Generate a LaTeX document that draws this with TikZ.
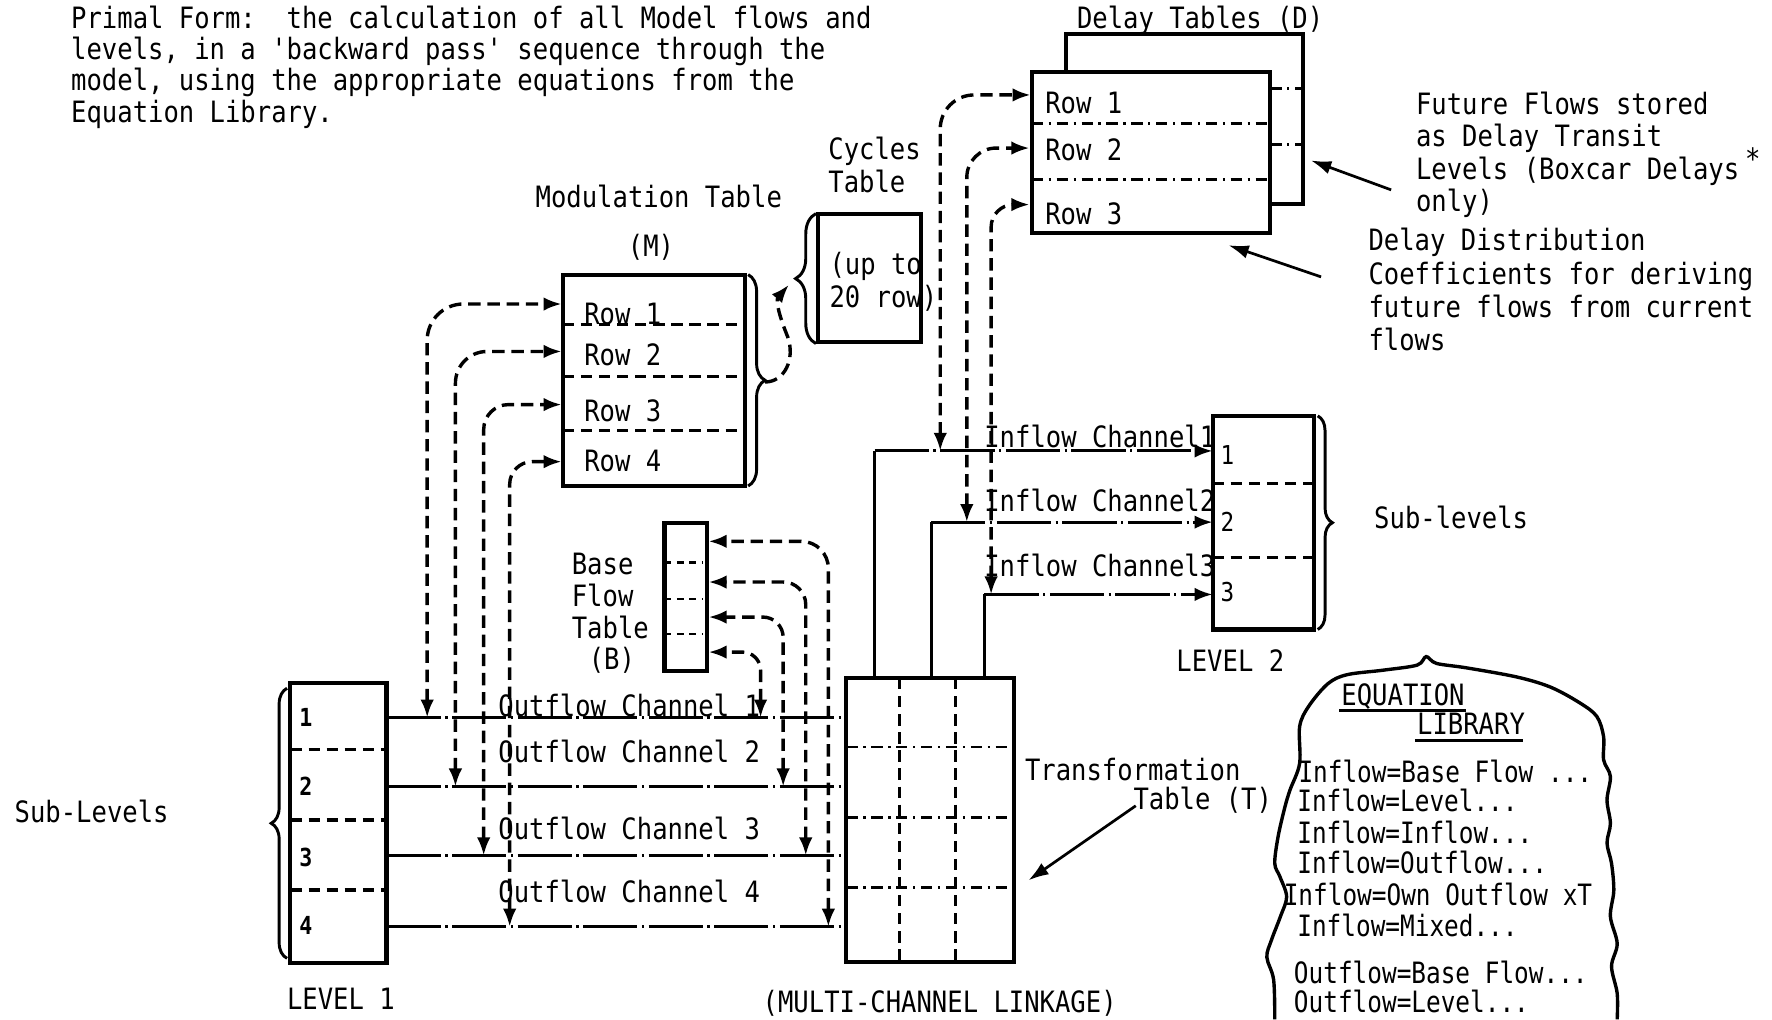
\documentclass[tikz,border=0pt]{standalone}
\usepackage{fontspec}
\newfontfamily\tw[FakeStretch=0.87]{DejaVu Sans Mono}
\newfontfamily\twn[FakeStretch=0.83]{DejaVu Sans Mono}
\usetikzlibrary{arrows.meta,decorations.pathreplacing}
\tikzset{
  txt/.style={inner sep=0pt, outer sep=0pt, anchor=base west, font=\tw\fontsize{13}{14}\selectfont},
  libt/.style={txt, font=\twn\fontsize{13}{14}\selectfont},
  numt/.style={txt, font=\tw\bfseries\fontsize{11}{12}\selectfont},
  numl/.style={txt, font=\tw\fontsize{11.5}{12}\selectfont},
  boxst/.style={draw, line width=1.8pt, fill=white, inner sep=0pt, outer sep=0pt, anchor=north west},
  divd/.style={line width=1.4pt, dash pattern=on 5pt off 3pt},
  divdd/.style={line width=1.3pt, dash pattern=on 5pt off 2.5pt on 1pt off 2.5pt},
  stub/.style={line width=1.2pt, dash pattern=on 3pt off 2.5pt},
  chan/.style={line width=1.3pt, dash pattern=on 24pt off 2pt on 1pt off 2pt},
  solidln/.style={line width=1.3pt},
  darr/.style={line width=1.5pt, dash pattern=on 5.5pt off 3pt, <->},
  darr1/.style={line width=1.5pt, dash pattern=on 5.5pt off 3pt, ->},
  annarr/.style={line width=1.2pt, -{Latex[length=9pt,width=6pt]}},
  brc/.style={decorate, decoration={brace, amplitude=#1, aspect=0.5}, line width=1.3pt},
  >={Latex[length=8pt,width=6pt]},
}
\begin{document}
\begin{tikzpicture}[x=0.5pt,y=-0.5pt]
\useasboundingbox (0,0) rectangle (1568,902);

% ---------- title ----------
\node[txt] (t1) at (63,25) {Primal Form:\ \ the calculation of all Model flows and};
\node[txt] (t2) at (63,53) {levels, in a 'backward pass' sequence through the};
\node[txt] (t3) at (63,80) {model, using the appropriate equations from the};
\node[txt] (t4) at (63,108) {Equation Library.};

% ---------- boxes ----------
\node[boxst, minimum width=80.5pt, minimum height=93.5pt] (M) at (498,243) {};
\node[boxst, minimum width=45.5pt, minimum height=57pt] (C) at (724,189) {};
\node[boxst, minimum width=105pt, minimum height=75.25pt] (D2) at (943,30) {};
\node[boxst, minimum width=105.5pt, minimum height=71pt] (D) at (913,64) {};
\node[boxst, minimum width=19pt, minimum height=65.5pt] (B) at (588,463) {};
\node[boxst, minimum width=42.5pt, minimum height=124pt] (L1) at (257,604) {};
\node[boxst, minimum width=45pt, minimum height=94.5pt] (L2) at (1073,368) {};
\node[boxst, minimum width=74pt, minimum height=125.5pt] (T) at (749,600) {};

% dividers
\draw[divd] (498,287) -- (659,287);
\draw[divd] (498,333) -- (659,333);
\draw[divd] (498,381) -- (659,381);
\draw[divdd] (913,109) -- (1124,109);
\draw[divdd] (913,158.5) -- (1124,158.5);
\draw[divdd] (1124,78) -- (1153,78);
\draw[divdd] (1124,127.6) -- (1153,127.6);
\draw[divd] (257,663) -- (342,663);
\draw[divd] (257,725.6) -- (342,725.6);
\draw[divd] (257,787.5) -- (342,787.5);
\draw[divd] (1073,428) -- (1163,428);
\draw[divd] (1073,493.5) -- (1163,493.5);
\draw[divd] (796,600) -- (796,851);
\draw[divd] (845.5,600) -- (845.5,851);
\draw[divdd] (749,661) -- (897,661);
\draw[divdd] (749,723) -- (897,723);
\draw[divdd] (749,785) -- (897,785);
\draw[stub] (588,498) -- (622,498);
\draw[stub] (588,530) -- (622,530);
\draw[stub] (588,561) -- (622,561);

% ---------- box texts ----------
\node[txt] (modlab) at (474,184) {Modulation Table};
\node[txt, anchor=base] (modm) at (576,227) {(M)};
\node[txt] (mr1) at (517,287) {Row 1};
\node[txt] (mr2) at (517,323) {Row 2};
\node[txt] (mr3) at (517,373) {Row 3};
\node[txt] (mr4) at (517,417) {Row 4};

\node[txt] (cyc1) at (733,141) {Cycles};
\node[txt] (cyc2) at (733,170) {Table};
\node[txt] (cyc3) at (734,243) {(up to};
\node[txt] (cyc4) at (734,272) {20 row)};

\node[txt] (dlab) at (953,25) {Delay Tables (D)};
\node[txt] (dr1) at (925,100) {Row 1};
\node[txt] (dr2) at (925,142) {Row 2};
\node[txt] (dr3) at (925,199) {Row 3};

\node[txt] (ff1) at (1253,101) {Future Flows stored};
\node[txt] (ff2) at (1253,130) {as Delay Transit};
\node[txt] (ff3) at (1253,159) {Levels (Boxcar Delays};
\node[txt] (ff4) at (1253,187) {only)};
\node[txt, anchor=center] (ast) at (1551,140) {*};

\node[txt] (dd1) at (1211,222) {Delay Distribution};
\node[txt] (dd2) at (1211,252) {Coefficients for deriving};
\node[txt] (dd3) at (1211,281) {future flows from current};
\node[txt] (dd4) at (1211,310) {flows};

\node[txt] (bl1) at (506,508) {Base};
\node[txt] (bl2) at (506,537) {Flow};
\node[txt] (bl3) at (506,565) {Table};
\node[txt] (bl4) at (521,592) {(B)};

\node[numt] (n1) at (265,643) {1};
\node[numt] (n2) at (265,703.5) {2};
\node[numt] (n3) at (265,767) {3};
\node[numt] (n4) at (265,827) {4};
\node[numl] (m1) at (1080,411) {1};
\node[numl] (m2) at (1080,470) {2};
\node[numl] (m3) at (1080,532) {3};

\node[txt] (sl2) at (1216,468) {Sub-levels};
\node[txt] (lv2) at (1041,594) {LEVEL 2};
\node[txt] (sl1) at (13,728) {Sub-Levels};
\node[txt] (lv1) at (254,893) {LEVEL 1};

\node[txt] (tr1) at (907,691) {Transformation};
\node[txt] (tr2) at (1003,716) {Table (T)};
\node[txt, anchor=base] (mcl) at (831.5,896) {(MULTI-CHANNEL LINKAGE)};

\node[txt] (oc1) at (441,634) {Outflow Channel 1};
\node[txt] (oc2) at (441,675) {Outflow Channel 2};
\node[txt] (oc3) at (441,743) {Outflow Channel 3};
\node[txt] (oc4) at (441,799) {Outflow Channel 4};

\node[txt] (ic1) at (871,396) {Inflow Channel1};
\node[txt] (ic2) at (871,453) {Inflow Channel2};
\node[txt] (ic3) at (871,510) {Inflow Channel3};

% ---------- braces ----------
\draw[brc=7.5pt] (662,243) -- (662,430);
\draw[brc=9pt] (722,304) -- (722,189);
\draw[brc=6.5pt] (1166,368) -- (1166,557);
\draw[brc=7pt] (254,848) -- (254,609);

% ---------- named connector ends ----------
\coordinate (L1o1) at (342,635);  \coordinate (To1) at (749,635);
\coordinate (L1o2) at (342,696);  \coordinate (To2) at (749,696);
\coordinate (L1o3) at (342,757);  \coordinate (To3) at (749,757);
\coordinate (L1o4) at (342,820);  \coordinate (To4) at (749,820);

\coordinate (Ti1) at (774,600);  \coordinate (k1) at (774,399);  \coordinate (L2i1) at (1073,399);
\coordinate (Ti2) at (824,600);  \coordinate (k2) at (824,462);  \coordinate (L2i2) at (1073,462);
\coordinate (Ti3) at (871,600);  \coordinate (k3) at (871,526);  \coordinate (L2i3) at (1073,526);

\coordinate (Mr1) at (497,269); \coordinate (Mr2) at (497,311);
\coordinate (Mr3) at (497,358); \coordinate (Mr4) at (497,408.5);
\coordinate (om1) at (378,635); \coordinate (om2) at (403,696);
\coordinate (om3) at (428,757); \coordinate (om4) at (451,820);

\coordinate (Br1) at (627,479); \coordinate (Br2) at (627,515);
\coordinate (Br3) at (627,546); \coordinate (Br4) at (627,577);
\coordinate (ob1) at (733,820); \coordinate (ob2) at (713,757);
\coordinate (ob3) at (693,696); \coordinate (ob4) at (673,635);

\coordinate (Dr1) at (912,84);  \coordinate (Dr2) at (911,131); \coordinate (Dr3) at (911,181);
\coordinate (id1) at (832,399); \coordinate (id2) at (855.5,462); \coordinate (id3) at (877,526);

\coordinate (mbt) at (677,338); \coordinate (cbt) at (698,252);

% ---------- outflow channels ----------
\draw[chan] (L1o1) -- (To1);
\draw[chan] (L1o2) -- (To2);
\draw[chan] (L1o3) -- (To3);
\draw[chan] (L1o4) -- (To4);

% ---------- inflow channels ----------
\draw[solidln] (Ti1) -- (k1);
\draw[solidln] (Ti2) -- (k2);
\draw[solidln] (Ti3) -- (k3);
\draw[chan, ->] (k1) -- (L2i1);
\draw[chan, ->] (k2) -- (L2i2);
\draw[chan, ->] (k3) -- (L2i3);

% ---------- dashed links ----------
\draw[darr, rounded corners=16pt] (om1) |- (Mr1);
\draw[darr, rounded corners=14pt] (om2) |- (Mr2);
\draw[darr, rounded corners=11pt] (om3) |- (Mr3);
\draw[darr, rounded corners=10pt] (om4) |- (Mr4);

\draw[darr, rounded corners=12pt] (ob1) |- (Br1);
\draw[darr, rounded corners=10pt] (ob2) |- (Br2);
\draw[darr, rounded corners=9pt] (ob3) |- (Br3);
\draw[darr, rounded corners=8pt] (ob4) |- (Br4);

\draw[darr, rounded corners=15pt] (id1) |- (Dr1);
\draw[darr, rounded corners=13pt] (id2) |- (Dr2);
\draw[darr, rounded corners=10pt] (id3) |- (Dr3);

\draw[darr1] (mbt) .. controls (694,338) and (704,318) .. (697,298)
  .. controls (690,281) and (686,266) .. (cbt);

% ---------- annotation arrows ----------
\coordinate (ffa) at (1231,168); \coordinate (ffb) at (1160,142);
\coordinate (dda) at (1169,245); \coordinate (ddb) at (1087,217);
\coordinate (tra) at (1005,713); \coordinate (trb) at (910,779);
\draw[annarr] (ffa) -- (ffb);
\draw[annarr] (dda) -- (ddb);
\draw[annarr] (tra) -- (trb);

% ---------- equation library cloud ----------
\draw[line width=1.5pt] plot[smooth, tension=0.55] coordinates {
 (1128,902) (1127,867) (1121,847) (1125,832) (1133,811) (1138.5,793.5)
 (1132.6,775.8) (1128,764) (1131,740) (1137,714) (1141.5,699) (1150,675.5)
 (1150,643) (1158,625) (1175,605) (1192,597) (1224,593) (1254,588.5)
 (1262,581) (1271,587) (1298,591) (1342,599) (1372,608) (1398,622)
 (1413,634) (1419,652) (1419,672.5) (1425,687) (1422,708) (1425,728.6)
 (1422,746) (1426,764) (1428,788) (1425,811) (1431,835) (1426,855)
 (1431,879) (1431,902)};

\node[txt] (eq1) at (1187,624) {EQUATION};
\node[txt] (eq2) at (1254,650) {LIBRARY};
\draw[line width=1.2pt] (1185,629) -- (1297,629);
\draw[line width=1.2pt] (1252,655) -- (1348,655);
\node[libt] (e1) at (1149,692) {Inflow=Base Flow ...};
\node[libt] (e2) at (1148,718) {Inflow=Level...};
\node[libt] (e3) at (1148,746) {Inflow=Inflow...};
\node[libt] (e4) at (1148,773) {Inflow=Outflow...};
\node[libt] (e5) at (1136,801) {Inflow=Own Outflow xT};
\node[libt] (e6) at (1148,829) {Inflow=Mixed...};
\node[libt] (e7) at (1145,870) {Outflow=Base Flow...};
\node[libt] (e8) at (1145,896) {Outflow=Level...};

\end{tikzpicture}
\end{document}
